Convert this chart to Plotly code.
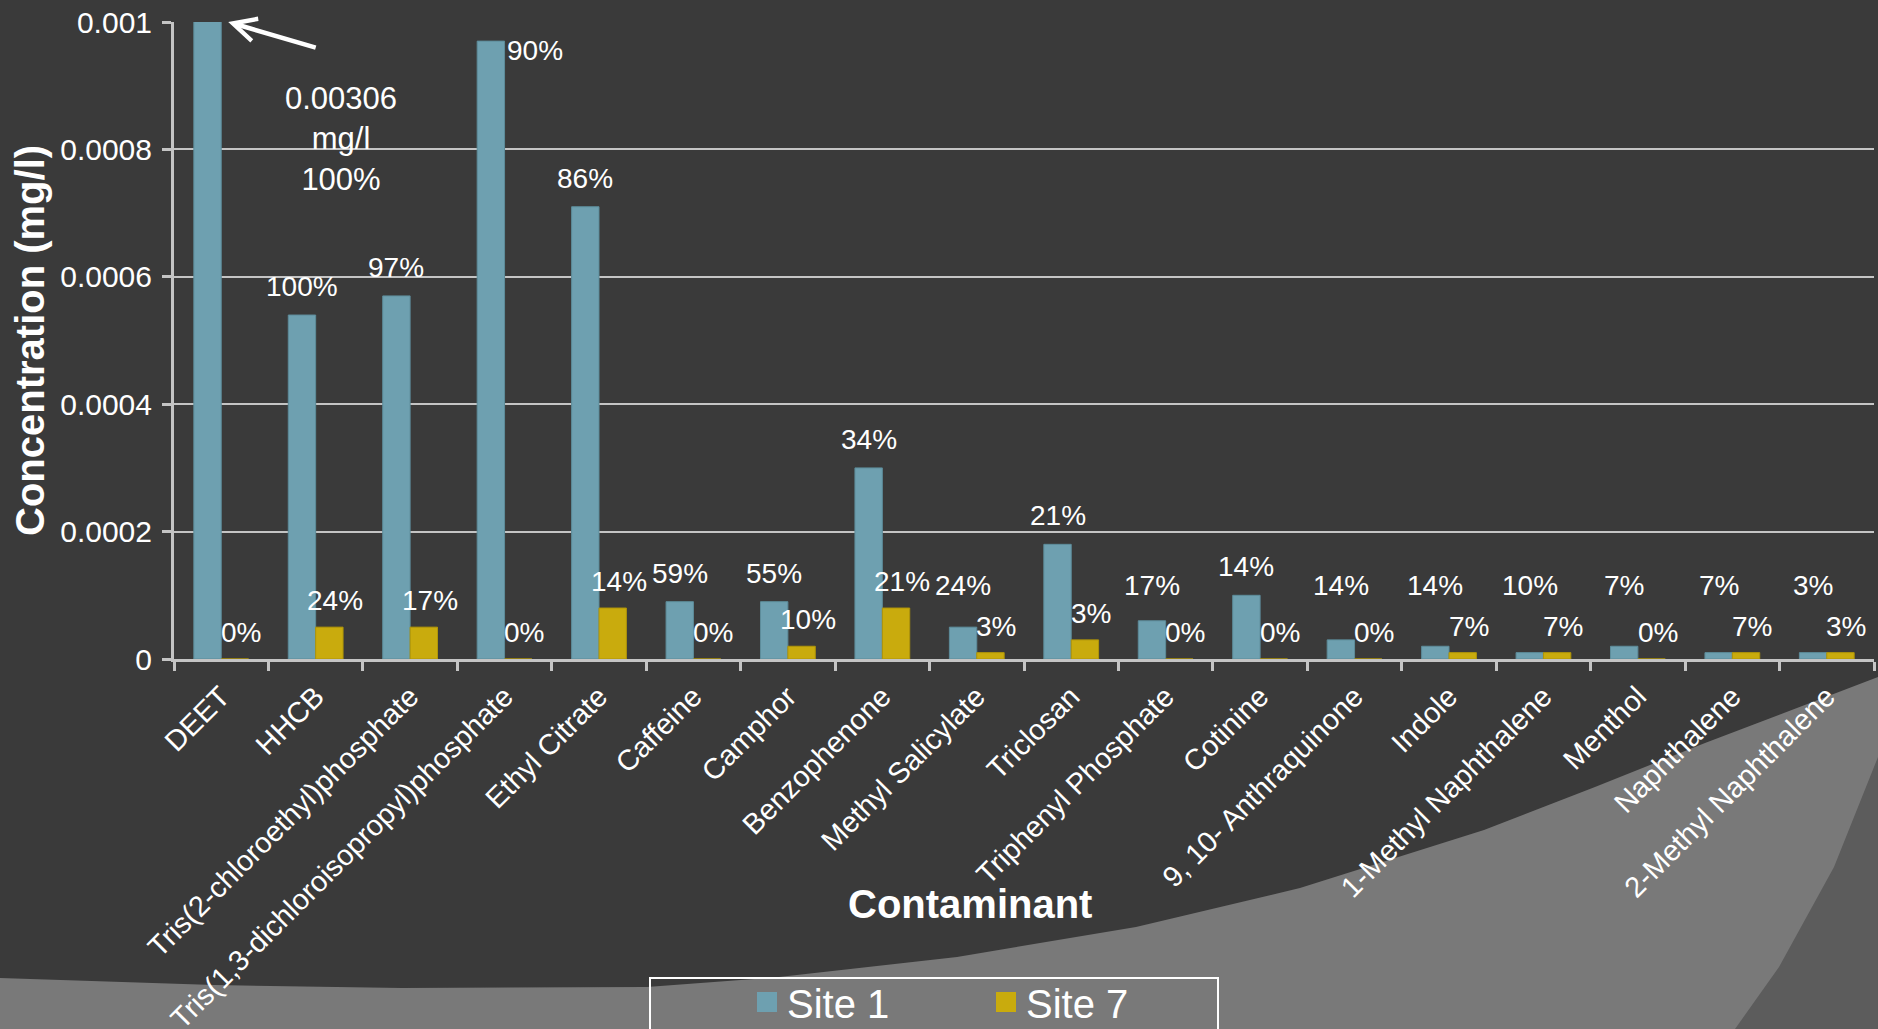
import plotly.graph_objects as go

# ---------------- data ----------------
categories = ["DEET", "HHCB", "Tris(2-chloroethyl)phosphate",
              "Tris(1,3-dichloroisopropyl)phosphate", "Ethyl Citrate", "Caffeine",
              "Camphor", "Benzophenone", "Methyl Salicylate", "Triclosan",
              "Triphenyl Phosphate", "Cotinine", "9, 10- Anthraquinone", "Indole",
              "1-Methyl Naphthalene", "Menthol", "Naphthalene", "2-Methyl Naphthalene"]
site1_values = [0.00306, 0.00054, 0.00057, 0.00097, 0.00071, 0.00009, 0.00009, 0.00030,
                0.00005, 0.00018, 0.00006, 0.00010, 0.00003, 0.00002, 0.00001, 0.00002,
                0.00001, 0.00001]
site7_values = [0, 0.00005, 0.00005, 0, 0.00008, 0, 0.00002, 0.00008, 0.00001, 0.00003,
                0, 0, 0, 0.00001, 0.00001, 0, 0.00001, 0.00001]
site1_pct = ["100%", "100%", "97%", "90%", "86%", "59%", "55%", "34%", "24%", "21%",
             "17%", "14%", "14%", "14%", "10%", "7%", "7%", "3%"]
site7_pct = ["0%", "24%", "17%", "0%", "14%", "0%", "10%", "21%", "3%", "3%", "0%",
             "0%", "0%", "7%", "7%", "0%", "7%", "3%"]
y_tickvals = [0, 0.0002, 0.0004, 0.0006, 0.0008, 0.001]
y_ticktext = ["0", "0.0002", "0.0004", "0.0006", "0.0008", "0.001"]
y_max = 0.001

# ---------------- style ----------------
W, H = 1878, 1029
ML, MR, MT, MB = 174, 4, 22, 370
PW, PH = W - ML - MR, H - MT - MB
BG = "#3a3a3a"
BLUE = "#6ea0b0"
GOLD = "#c9ab0d"
GRID = "#c4c4c4"
FONT = "Liberation Sans, Arial, sans-serif"
BARGAP = 0.42
cat_px = PW / len(categories)
half = (1 - BARGAP) * cat_px / 4.0  # offset from category center to each bar center
LABEL_FLOOR = 0.07 * y_max          # keep small-bar labels of Site 1 above Site 7 labels


def px_x(px):
    return (px - ML) / PW


def px_y(py):
    return (H - MB - py) / PH


fig = go.Figure()
fig.add_trace(go.Bar(name="Site 1", x=categories, y=site1_values, showlegend=False,
                     marker=dict(color=BLUE, line=dict(color="#5d8c9a", width=1)),
                     hoverinfo="skip"))
fig.add_trace(go.Bar(name="Site 7", x=categories, y=site7_values, showlegend=False,
                     marker=dict(color=GOLD, line=dict(color="#b09508", width=1)),
                     hoverinfo="skip"))
# legend entries (square swatches)
for name, col in (("Site 1", BLUE), ("Site 7", GOLD)):
    fig.add_trace(go.Scatter(name=name, x=[None], y=[None], mode="markers",
                             marker=dict(symbol="square", size=16, color=col,
                                         line=dict(color=col, width=4)),
                             hoverinfo="skip"))

annotations = []
lab_font = dict(family=FONT, size=28, color="white")
for i, (v, t) in enumerate(zip(site1_values, site1_pct)):
    if v > y_max:
        # callout for the off-scale bar
        annotations.append(dict(x=i, y=y_max * 0.817, xref="x", yref="y", xshift=120,
                                text=f"{v:.5f}<br>mg/l<br>{t}", showarrow=False,
                                font=dict(family=FONT, size=31, color="white"),
                                align="center", xanchor="center", yanchor="middle"))
        annotations.append(dict(x=i, y=y_max, xref="x", yref="y", xshift=7, text="",
                                showarrow=True, ax=89, ay=26, arrowhead=5, arrowsize=1,
                                arrowwidth=4.5, arrowcolor="white"))
    elif v > 0.92 * y_max:
        annotations.append(dict(x=i, y=v, xref="x", yref="y", xshift=0, yshift=8,
                                text=t, showarrow=False, font=lab_font,
                                xanchor="left", yanchor="top"))
    else:
        annotations.append(dict(x=i, y=max(v, LABEL_FLOOR), xref="x", yref="y",
                                xshift=-half, yshift=11, text=t, showarrow=False,
                                font=lab_font, xanchor="center", yanchor="bottom"))
for i, (v, t) in enumerate(zip(site7_values, site7_pct)):
    annotations.append(dict(x=i, y=v, xref="x", yref="y", xshift=half + 6, yshift=9,
                            text=t, showarrow=False, font=lab_font,
                            xanchor="center", yanchor="bottom"))

# axis titles
annotations.append(dict(x=px_x(970), y=px_y(904), xref="paper", yref="paper",
                        xanchor="center", yanchor="middle",
                        text="<b>Contaminant</b>", showarrow=False,
                        font=dict(family=FONT, size=40, color="white")))
annotations.append(dict(x=px_x(30), y=px_y(341), xref="paper", yref="paper",
                        xanchor="center", yanchor="middle",
                        text="<b>Concentration (mg/l)</b>", showarrow=False, textangle=-90,
                        font=dict(family=FONT, size=40, color="white")))

# decorative background shapes
light_pts = [(0, 978), (214, 985), (402, 988), (647, 987), (779, 977), (957, 957),
             (1136, 927), (1300, 888), (1484, 830), (1595, 787), (1705, 743), (1878, 677)]
path = "M " + " L ".join(f"{px_x(x):.5f},{px_y(y):.5f}" for x, y in light_pts)
path += f" L {px_x(1878):.5f},{px_y(1040):.5f} L {px_x(0):.5f},{px_y(1040):.5f} Z"
wedge_pts = [(1878, 757), (1834, 867), (1779, 967), (1735, 1029), (1733, 1040), (1878, 1040)]
wpath = "M " + " L ".join(f"{px_x(x):.5f},{px_y(y):.5f}" for x, y in wedge_pts) + " Z"
shapes = [
    dict(type="path", path=path, xref="paper", yref="paper", fillcolor="#797979",
         line=dict(width=0), layer="below"),
    dict(type="path", path=wpath, xref="paper", yref="paper", fillcolor="#5c5c5c",
         line=dict(width=0), layer="below"),
    dict(type="rect", xref="paper", yref="paper", x0=px_x(650), x1=px_x(1218),
         y0=px_y(978), y1=px_y(1040), line=dict(color="white", width=2),
         fillcolor="rgba(0,0,0,0)"),
]

fig.update_layout(
    width=W, height=H,
    margin=dict(l=ML, r=MR, t=MT, b=MB, pad=0, autoexpand=False),
    paper_bgcolor=BG, plot_bgcolor="rgba(0,0,0,0)",
    font=dict(family=FONT, color="white", size=28),
    barmode="group", bargap=BARGAP, bargroupgap=0,
    showlegend=True,
    legend=dict(orientation="h", x=px_x(747), xanchor="left", y=px_y(1002),
                yanchor="middle", font=dict(family=FONT, size=40, color="white"),
                bgcolor="rgba(0,0,0,0)", borderwidth=0, entrywidth=194,
                itemsizing="trace", itemclick=False, itemdoubleclick=False),
    annotations=annotations,
    shapes=shapes,
    xaxis=dict(type="category", tickangle=-45, tickson="boundaries", ticks="outside",
               ticklen=9, tickwidth=3, tickcolor=GRID, showline=True, linecolor=GRID,
               linewidth=3, showgrid=False, automargin=False,
               tickfont=dict(family=FONT, size=29, color="white"),
               ticklabelstandoff=6),
    yaxis=dict(range=[0, y_max], tickvals=y_tickvals, ticktext=y_ticktext,
               ticks="outside", ticklen=9, tickwidth=3, tickcolor=GRID,
               showline=True, linecolor=GRID, linewidth=3, showgrid=True, gridcolor=GRID,
               gridwidth=2, zeroline=False, automargin=False,
               tickfont=dict(family=FONT, size=30, color="white"), ticklabelstandoff=4),
)

fig.write_html("out.html", config={"displayModeBar": False},
               post_script="document.body.style.margin='0';document.body.style.overflow='hidden';")
